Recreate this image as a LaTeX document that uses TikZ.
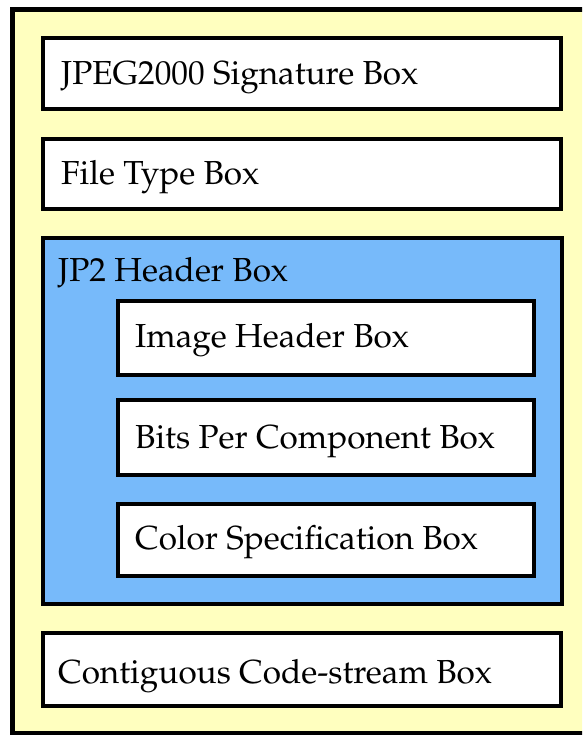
\documentclass[tikz,border=0pt]{standalone}
\usepackage[T1]{fontenc}
\renewcommand{\rmdefault}{ppl}
\definecolor{fileyellow}{HTML}{FFFFBF}
\definecolor{headerblue}{HTML}{77BAFA}
\tikzset{
  boxline/.style={draw=black, line width=4pt},
  plainbox/.style={boxline, fill=white},
  boxlabel/.style={anchor=base west, inner sep=0pt, font=\fontsize{33.3}{39}\selectfont},
}
\begin{document}
\begin{tikzpicture}[x=1pt, y=-1pt]
  \useasboundingbox (0,0) rectangle (582,735);
  \clip (0,0) rectangle (582,735);
  \fill[white] (0,0) rectangle (582,735);

  % JP2 file container
  \draw[fill=fileyellow, line width=5pt] (12.5,9.5) rectangle (600,733);

  % top-level boxes
  \draw[plainbox] (43,38) rectangle (561,109);
  \node[boxlabel] (sig) at (61,85) {JPEG2000 Signature Box};

  \draw[plainbox] (43,139) rectangle (561,209);
  \node[boxlabel] (ftyp) at (61,185) {File Type Box};

  % JP2 header superbox
  \draw[boxline, fill=headerblue] (43,237.5) rectangle (562,604);
  \node[boxlabel] (jp2h) at (58,281) {JP2 Header Box};

  \draw[plainbox] (117.5,300.5) rectangle (534,374.5);
  \node[boxlabel] (ihdr) at (135,347) {Image Header Box};

  \draw[plainbox] (117.5,400) rectangle (534,475);
  \node[boxlabel] (bpcc) at (135,448) {Bits Per Component Box};

  \draw[plainbox] (117.5,503.5) rectangle (534,575.5);
  \node[boxlabel] (colr) at (135,549) {Color Specification Box};

  % code-stream box
  \draw[plainbox] (43,633) rectangle (561,706);
  \node[boxlabel] (jp2c) at (58,683) {Contiguous Code-stream Box};
\end{tikzpicture}
\end{document}
